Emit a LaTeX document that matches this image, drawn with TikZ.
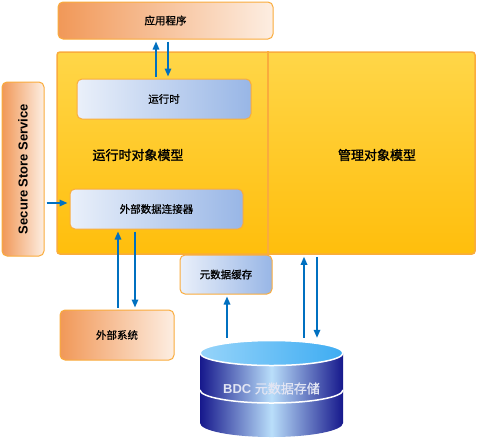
\documentclass[tikz,border=0pt]{standalone}
\usepackage{fontspec}
\setmainfont{Liberation Sans}
\newfontfamily\cjk[RawFeature={embolden=0.9}]{Noto Sans CJK SC}
\newfontfamily\cjkbig[RawFeature={embolden=1.6}]{Noto Sans CJK SC}
\usetikzlibrary{arrows.meta}
\definecolor{bdcorange}{RGB}{241,152,88}
\definecolor{bdcpeach}{RGB}{253,238,226}
\definecolor{bdcedge}{RGB}{250,172,60}
\definecolor{bdcyeltop}{RGB}{255,214,72}
\definecolor{bdcyelbot}{RGB}{255,190,12}
\definecolor{bdcice}{RGB}{234,240,250}
\definecolor{bdcsteel}{RGB}{152,182,230}
\definecolor{bdcarrow}{RGB}{0,112,192}
\definecolor{bdcnavy}{RGB}{22,24,140}
\definecolor{bdcsky}{RGB}{185,222,250}
\definecolor{bdclidlt}{RGB}{150,212,250}
\definecolor{bdclid}{RGB}{62,172,242}
\definecolor{bdcmist}{RGB}{226,229,243}

\begin{document}
\begin{tikzpicture}[
    x=1pt, y=-1pt,
    >={Triangle[length=8pt,width=6.5pt]},
    flow/.style={->, draw=bdcarrow, line width=1.6pt, shorten <=2pt, shorten >=2pt},
    obox/.style={rounded corners=5pt, draw=bdcedge, line width=1pt,
                 left color=bdcorange, right color=bdcpeach, inner sep=0pt,
                 font=\cjk\fontsize{10.5}{12}\selectfont},
    bbox/.style={rounded corners=5pt, draw=bdcedge, line width=1pt,
                 left color=bdcice, right color=bdcsteel, inner sep=0pt,
                 font=\cjk\fontsize{10.5}{12}\selectfont},
    panel/.style={rounded corners=3pt, draw=bdcedge, line width=1.5pt,
                  top color=bdcyeltop, bottom color=bdcyelbot, inner sep=0pt},
    big/.style={font=\cjkbig\fontsize{13}{15}\selectfont},
  ]
  \useasboundingbox[fill=white] (0,0) rectangle (492,440);

  %% ---------------- application on top ----------------
  \node[obox, minimum width=215pt, minimum height=37pt] (app) at (165.5,20.5) {应用程序};

  %% ---------------- object model panel ----------------
  \node[panel, minimum width=418pt, minimum height=202pt] (core) at (266,153) {};
  \draw[bdcedge, line width=1.2pt] (268,0 |- core.north) -- (268,0 |- core.south);
  \node[big] (rtlbl) at (138,155) {运行时对象模型};
  \node[big] (mglbl) at (377,155) {管理对象模型};

  \node[bbox, minimum width=174pt, minimum height=40pt] (run) at (164,99) {运行时};
  \node[bbox, minimum width=173pt, minimum height=40pt] (conn) at (156.5,209) {外部数据连接器};

  %% ---------------- side and bottom boxes ----------------
  \node[obox, minimum width=42pt, minimum height=174pt,
        font=\bfseries\fontsize{13}{15}\selectfont] (sss) at (23,169)
    {\rotatebox{90}{Secure Store Service}};
  \node[obox, minimum width=114pt, minimum height=50pt] (ext) at (117,335) {外部系统};
  \node[bbox, minimum width=92pt, minimum height=39pt] (cache) at (226,274.5) {元数据缓存};

  %% ---------------- metadata store (cylinder) ----------------
  \shade[left color=bdcnavy, right color=bdcnavy, middle color=bdcsky]
    (200,353) -- (200,423) arc[start angle=180, end angle=0, x radius=71.5, y radius=14]
    -- (343,353) -- cycle;
  \draw[white, line width=1.5pt]
    (200,390) arc[start angle=180, end angle=0, x radius=71.5, y radius=13];
  \draw[white, line width=1.5pt, left color=bdclidlt, right color=bdclid]
    (271.5,353) ellipse[x radius=71.5, y radius=12.5];
  \node[minimum width=143pt, minimum height=97pt, inner sep=0pt, text=bdcmist,
        font=\fontsize{13}{15}\selectfont] (store) at (271.5,388.5)
    {\textbf{BDC} {\cjk 元数据存储}};

  %% ---------------- arrows ----------------
  \draw[flow] ([xshift=-8pt]run.north) -- ([xshift=-8pt]run.north |- app.south);
  \draw[flow] ([xshift=4pt]run.north |- app.south) -- ([xshift=4pt]run.north);
  \draw[flow] ([yshift=6pt]conn.west -| sss.east) -- ([yshift=6pt]conn.west);
  \draw[flow] ([xshift=-38.5pt]conn.south |- ext.north) -- ([xshift=-38.5pt]conn.south);
  \draw[flow] ([xshift=-21.5pt]conn.south) -- ([xshift=-21.5pt]conn.south |- ext.north);
  \draw[flow] ([xshift=-44.5pt]store.north) -- ([xshift=-44.5pt]store.north |- cache.south);
  \draw[flow] ([xshift=32.5pt]store.north) -- ([xshift=32.5pt]store.north |- core.south);
  \draw[flow] ([xshift=45.5pt]store.north |- core.south) -- ([xshift=45.5pt]store.north);

\end{tikzpicture}
\end{document}
